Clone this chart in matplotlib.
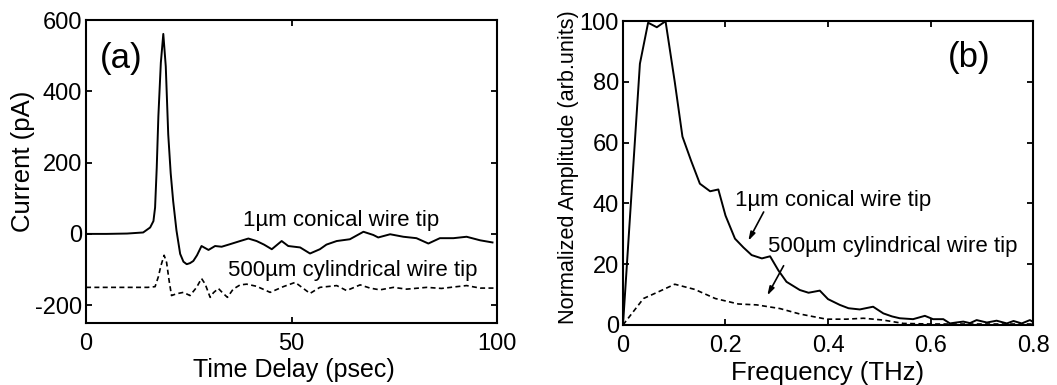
import numpy as np
import matplotlib.pyplot as plt

plt.rcParams['font.family'] = ['Liberation Sans', 'DejaVu Sans']
plt.rcParams['axes.unicode_minus'] = False

# (a) time domain, current in pA
t_cone = [0, 5, 10, 13.9, 15.6, 16.4, 16.8, 17.2, 17.6, 18.2, 18.8, 19.4, 20.0, 20.6, 21.2,
          22.0, 22.9, 23.7, 24.5, 25.3, 26.1, 27.0, 28.1, 29.8, 31.4, 33.0, 35.0, 37.5,
          39.5, 41.5, 43.3, 45.2, 47.6, 49.2, 52.1, 54.5, 56.9, 58.5, 61.0, 64.2, 67.5,
          69.9, 71.1, 74.0, 77.2, 80.4, 83.3, 86.1, 89.4, 92.6, 95.9, 98.9]
i_cone = [0, 0, 1, 4, 18, 36, 74, 185, 330, 480, 561, 470, 279, 170, 92,
          10, -56, -78, -85, -82, -76, -60, -34, -45, -34, -36, -29, -20,
          -13, -20, -30, -43, -20, -34, -38, -55, -43, -30, -20, -15, 6,
          -3, -10, -1, -8, -12, -27, -12, -12, -8, -18, -24]

t_cyl = [0, 5, 10, 15, 16.8, 17.6, 18.2, 19.0, 19.6, 20.2, 20.8, 22.0, 23.7, 25.3, 26.9,
         28.1, 29.0, 30.2, 31.0, 32.2, 33.2, 34.4, 35.8, 37.5, 39.1, 41.5, 44.8, 48.0,
         50.9, 54.5, 56.9, 61.0, 63.4, 66.7, 69.1, 71.5, 74.8, 78.0, 82.9, 86.5, 90.2,
         92.6, 95.9, 99.5]
i_cyl = [-150, -150, -150, -150, -148, -120, -90, -60, -80, -130, -173, -168, -164, -173, -150,
         -125, -141, -178, -165, -153, -165, -178, -155, -143, -141, -147, -164, -148,
         -136, -167, -150, -145, -159, -143, -152, -157, -150, -155, -150, -153, -148,
         -145, -152, -152]

# (b) spectra, normalized amplitude
f_cone = [0, 0.0165, 0.033, 0.049, 0.066, 0.083, 0.101, 0.116, 0.133, 0.150, 0.170, 0.186,
          0.200, 0.2185, 0.235, 0.251, 0.271, 0.287, 0.303, 0.319, 0.345, 0.362, 0.384,
          0.400, 0.423, 0.440, 0.462, 0.488, 0.508, 0.525, 0.540, 0.566, 0.589, 0.605,
          0.625, 0.638, 0.650, 0.664, 0.677, 0.690, 0.710, 0.729, 0.749, 0.762, 0.778,
          0.794, 0.800]
a_cone = [0, 43, 86, 99.5, 98, 100, 80, 62, 54, 46.5, 44, 44.6,
          36, 28.4, 25.5, 23, 21.9, 22.6, 18, 14.2, 11.5, 10.6, 11.3,
          8.5, 6.6, 5.5, 5.1, 6.0, 3.8, 2.8, 2.2, 1.9, 3.0, 1.9,
          1.9, 0.5, 0.8, 1.1, 0.6, 1.6, 0.8, 1.4, 0.5, 1.3, 0.5,
          1.6, 1.0]

f_cyl = [0, 0.040, 0.069, 0.101, 0.140, 0.180, 0.225, 0.261, 0.306, 0.345, 0.397, 0.436,
         0.469, 0.508, 0.547, 0.600, 0.650, 0.700, 0.750, 0.800]
a_cyl = [0, 8.7, 10.9, 13.4, 11.7, 8.7, 6.9, 6.6, 5.4, 3.6, 1.9, 1.9,
         2.2, 1.6, 0.5, 0.3, 0.3, 0.3, 0.3, 0.3]

fig = plt.figure(figsize=(10.57, 3.85), dpi=100)
ax1 = fig.add_axes([0.0814, 0.161, 0.3888, 0.787])
ax2 = fig.add_axes([0.5894, 0.156, 0.3879, 0.789])

for ax in (ax1, ax2):
    ax.tick_params(direction='in', length=4, width=1.3, top=True, right=True,
                   labelsize=17, pad=3)
    ax.tick_params(axis='x', pad=7)
    for s in ax.spines.values():
        s.set_linewidth(1.5)

# panel (a)
ax1.plot(t_cone, i_cone, color='black', lw=1.4)
ax1.plot(t_cyl, i_cyl, color='black', lw=1.2, ls=(0, (3, 2)))
ax1.set_xlim(0, 100)
ax1.set_ylim(-250, 600)
ax1.set_xticks([0, 50, 100])
ax1.set_yticks([-200, 0, 200, 400, 600])
ax1.set_xlabel('Time Delay (psec)', fontsize=18)
ax1.set_ylabel('Current (pA)', fontsize=18.5)
ax1.xaxis.set_label_coords(0.506, -0.115)
ax1.yaxis.set_label_coords(-0.124, 0.535)
ax1.text(3.4, 492, '(a)', fontsize=25, va='center')
ax1.text(38.2, 22, '1µm conical wire tip', fontsize=16, va='baseline')
ax1.text(34.5, -117, '500µm cylindrical wire tip', fontsize=16, va='baseline')

# panel (b)
ax2.plot(f_cone, a_cone, color='black', lw=1.4)
ax2.plot(f_cyl, a_cyl, color='black', lw=1.2, ls=(0, (3, 2)))
ax2.set_xlim(0, 0.8)
ax2.set_ylim(0, 100)
ax2.set_xticks([0, 0.2, 0.4, 0.6, 0.8])
ax2.set_xticklabels(['0', '0.2', '0.4', '0.6', '0.8'])
ax2.set_yticks([0, 20, 40, 60, 80, 100])
ax2.set_xlabel('Frequency (THz)', fontsize=18.5)
ax2.set_ylabel('Normalized Amplitude (arb.units)', fontsize=15.6)
ax2.xaxis.set_label_coords(0.5, -0.118)
ax2.yaxis.set_label_coords(-0.108, 0.518)
ax2.text(0.634, 88, '(b)', fontsize=25, va='center')
ax2.text(0.2185, 39.3, '1µm conical wire tip', fontsize=16, va='baseline')
ax2.text(0.283, 24, '500µm cylindrical wire tip', fontsize=16, va='baseline')
ax2.annotate('', xy=(0.242, 26.9), xytext=(0.277, 38.0),
             arrowprops=dict(arrowstyle='-|>,head_length=0.5,head_width=0.15',
                             color='black', lw=1.2))
ax2.annotate('', xy=(0.279, 8.9), xytext=(0.316, 20.3),
             arrowprops=dict(arrowstyle='-|>,head_length=0.5,head_width=0.15',
                             color='black', lw=1.2))

plt.savefig('out.png', dpi=100)
